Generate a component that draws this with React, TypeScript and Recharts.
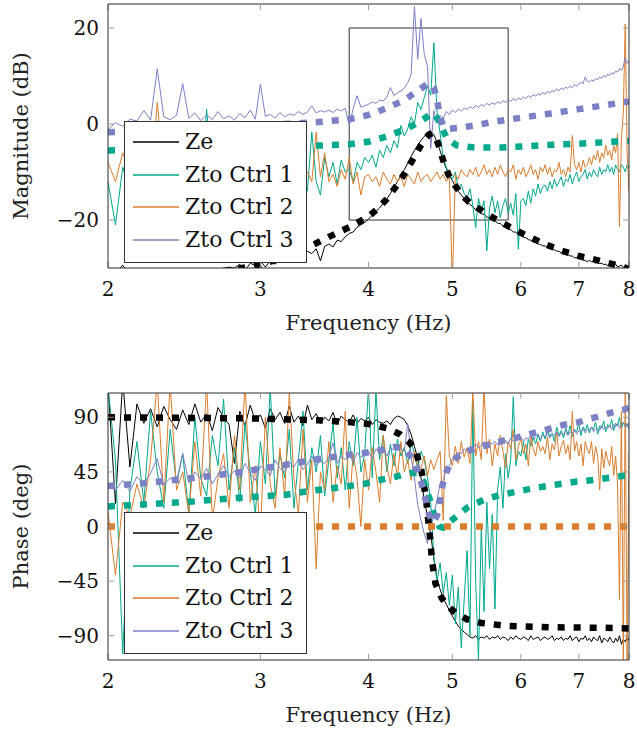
import React from 'react';
import { LineChart, Line, XAxis, YAxis, ReferenceArea, Legend } from 'recharts';

const FONT = "'DejaVu Serif', serif";
const C_ZE = '#000000';
const C_1 = '#00a88c';
const C_2 = '#da7d2c';
const C_3 = '#7c80c4';

const SERIES_NAMES = ['Ze', 'Zto Ctrl 1', 'Zto Ctrl 2', 'Zto Ctrl 3'];
const SERIES_COLORS = [C_ZE, C_1, C_2, C_3];

const X_TICKS = [2, 3, 4, 5, 6, 7, 8];
const MAG_TICKS = [-20, 0, 20];
const PH_TICKS = [-90, -45, 0, 45, 90];

const FREQ = [
  2, 2.04, 2.08, 2.12, 2.16, 2.2, 2.24, 2.28, 2.32, 2.36,
  2.4, 2.44, 2.48, 2.52, 2.56, 2.6, 2.64, 2.68, 2.72, 2.76,
  2.8, 2.84, 2.88, 2.92, 2.96, 3, 3.04, 3.08, 3.12, 3.16,
  3.2, 3.24, 3.28, 3.32, 3.36, 3.4, 3.44, 3.48, 3.52, 3.56,
  3.6, 3.64, 3.68, 3.72, 3.76, 3.8, 3.84, 3.88, 3.92, 3.96,
  4, 4.04, 4.08, 4.12, 4.16, 4.2, 4.24, 4.28, 4.32, 4.36,
  4.4, 4.44, 4.48, 4.52, 4.56, 4.6, 4.64, 4.68, 4.72, 4.76,
  4.8, 4.84, 4.88, 4.92, 4.96, 5, 5.04, 5.08, 5.12, 5.16,
  5.2, 5.24, 5.28, 5.32, 5.36, 5.4, 5.44, 5.48, 5.52, 5.56,
  5.6, 5.64, 5.68, 5.72, 5.76, 5.8, 5.84, 5.88, 5.92, 5.96,
  6, 6.04, 6.08, 6.12, 6.16, 6.2, 6.24, 6.28, 6.32, 6.36,
  6.4, 6.44, 6.48, 6.52, 6.56, 6.6, 6.64, 6.68, 6.72, 6.76,
  6.8, 6.84, 6.88, 6.92, 6.96, 7, 7.04, 7.08, 7.12, 7.16,
  7.2, 7.24, 7.28, 7.32, 7.36, 7.4, 7.44, 7.48, 7.52, 7.56,
  7.6, 7.64, 7.68, 7.72, 7.76, 7.8, 7.84, 7.88, 7.92, 7.96,
  8,
];

// ---- Magnitude (dB), measured ----
const MAG_ZE = [
  -33, -31, -29.4, -32, -34, -33, -35, -34, -33, -32,
  -33, -34, -32, -33, -31, -32, -30.5, -32, -31, -29.8,
  -30, -29.2, -30.5, -29, -29.5, -28.6, -29.8, -28.5, -29.2, -28,
  -28.4, -27.5, -28.2, -27, -27.6, -26.5, -27, -26, -28.5, -25.5,
  -25, -25.6, -24.2, -24.5, -23.5, -22.8, -22.5, -21.5, -21, -20.5,
  -19.8, -19, -18.2, -17.5, -16.5, -15.6, -14.5, -13.2, -12, -10.8,
  -9.5, -8.2, -6.8, -5.5, -4.4, -3.4, -2.6, -2, -1.6, -2.2,
  -3.8, -5.6, -7.6, -9.3, -10.6, -11.8, -13, -14, -14.8, -15.5,
  -16.1, -16.8, -17.2, -17.9, -18.1, -18.7, -18.8, -19.4, -19.5, -20,
  -20.1, -20.7, -20.7, -21.3, -21.4, -21.9, -22, -22.5, -22.5, -23.1,
  -23.2, -23.6, -23.7, -24.1, -24.2, -24.6, -24.6, -25, -25.1, -25.4,
  -25.4, -25.8, -25.8, -26.1, -26.2, -26.5, -26.5, -26.9, -26.9, -27.2,
  -27.2, -27.5, -27.5, -27.9, -27.8, -28.1, -28.1, -28.4, -28.4, -28.7,
  -28.4, -28.7, -28.6, -29, -28.8, -29.1, -29, -29.3, -29.2, -29.5,
  -29.3, -29.6, -29.5, -29.2, -29.8, -29.6, -29.4, -29.9, -29.6, -30,
  -29.9,
];
const MAG_C1 = [
  -12, -21, -9, -14, -11, -16, -8, -13, -10, -15,
  -11, -17, -9, -12, -14, 3.1, -10, -13, -9, -15,
  -12, -8, -14, -10, -13, -11, -16, -9, -12, -10,
  -13, -8, -15, -11, -9, -14, -1.7, -12, -14.8, -7,
  -11, -8, -12.5, -7.5, -10, -9.5, -12, -8, -9.5, -7,
  -8, -6.5, -9, -5.5, -7, -4.5, -6, -3.5, -5, -0.3,
  -2.5, -1, 1.5, 0, 4.5, 3, 5.5, 8, 6, 16.9,
  2.5, -2, -7, -9, -10.5, -11.5, -10, -13.5, -12.5, -14.5,
  -15.5, -13.5, -17, -21.6, -15.5, -18, -16, -26.4, -17.5, -15,
  -18.5, -16, -19.5, -17, -15.5, -18.5, -16.5, -19, -14.5, -26.1,
  -16, -15.5, -17, -14, -16.5, -13.5, -15, -12.5, -14.5, -13,
  -12.7, -14, -12, -13.5, -11.5, -13, -12, -11, -13, -11.5,
  -12, -10.5, -12.5, -11, -10, -12, -11, -10.5, -9.5, -11.5,
  -10, -11, -9.5, -10.5, -11, -9, -10.5, -9.5, -10, -8.5,
  -10, -9, -10.5, -8.5, -9.5, -10, -8.5, -9, -10, -8.5,
  -9.2,
];
const MAG_C2 = [
  -8, -12, -6, -10, -11, -9, -13, 4.5, -10, -12,
  -9, -11, -13, -8, -12, -10, -9, -14, -11, -10,
  -12, -9, -11, -13, -10, -12, -8, -11, -13, -10,
  -11, -12, -9, -13, -11, -10, -12, -1.7, -11, -6,
  -12, -10.5, -13, -9.5, -11.5, -7, -12.5, -10, -14.8, -11,
  -10.5, -12, -11, -13, -10, -11.5, -12.5, -10.5, -12, -11,
  -13, -10.5, -11.5, -12.5, -10, -12, -11, -10.5, -12, -11,
  -10, -11.5, -10.5, -12, -11, -33, -10.5, -11.5, -9.5, -10.5,
  -11, -9.5, -10.5, -9, -11, -10, -8.5, -10.5, -9.5, -11,
  -9, -10.5, -8.5, -10, -11, -9.5, -10, -8.5, -11.5, -9.5,
  -10.5, -9, -11, -10, -8.5, -10.5, -9.5, -11.5, -9, -10,
  -8.5, -10.5, -9, -11, -9.5, -10, -8, -10.5, -9.5, -11,
  -9, -10, -2.4, -8.5, -9.5, -8, -10, -7.5, -9, -8.5,
  -7, -8.5, -6.5, -7.5, -5.5, -8, -6, -7, -4.4, -6.5,
  -5.5, -7.5, -4.5, -6, -2, -21.4, -3, 2.5, 20.8, -6,
  -14,
];
const MAG_C3 = [
  -1.2, 0.3, -0.5, 1.0, 0.6, 2.8, 0.8, 11.5, 1.5, 0.9,
  1.8, 8.4, 1.2, 2.3, 0.7, 1.9, 0.9, 2.6, 1.1, 1.7,
  0.8, 2.2, 1.3, 2.9, 1.0, 8.3, 1.6, 2.0, 1.2, 2.4,
  1.5, 2.1, 1.8, 2.6, 2.0, 2.5, 3.8, 2.3, 2.8, 2.5,
  2.9, 2.4, 3.1, 2.7, 3.3, -0.3, 3.2, 5.9, 3.5, 3.8,
  4.1, 4.6, 4.3, 5.0, 4.8, 5.6, 7.6, 5.9, 6.5, 6.9,
  7.5, 8.6, 10.2, 24.5, 13.5, 22.0, 14.5, 12.0, -5.1, 2.8,
  0.2, 1.8, 1.2, 2.6, 2.0, 2.9, 2.4, 3.1, 2.7, 3.3,
  3.0, 3.6, 3.2, 3.9, 3.4, 4.1, 3.7, 4.3, 3.9, 4.4,
  4.1, 4.6, 4.3, 4.9, 4.5, 5.1, 4.7, 5.3, 4.9, 5.4,
  5.1, 5.6, 5.3, 5.9, 5.5, 6.1, 5.8, 6.3, 6.0, 6.6,
  6.2, 6.8, 6.4, 7.0, 6.7, 7.3, 6.9, 7.5, 7.2, 7.7,
  7.4, 7.9, 7.6, 8.2, 7.9, 8.3, 8.7, 8.4, 9.8, 8.9,
  8.7, 9.2, 8.9, 9.5, 9.2, 9.8, 9.5, 10.1, 9.8, 10.4,
  10.1, 10.7, 10.4, 11.0, 10.8, 11.5, 11.2, 12.0, 13.8, 12.6,
  13.2,
];

// ---- Magnitude (dB), model curves [frequency, value] ----
const MAG_ZE_MODEL: [number, number][] = [
  [2.6, -31], [2.8, -30.3], [3.0, -29.3], [3.2, -27.8], [3.4, -25.8], [3.6, -23.5],
  [3.8, -21.5], [4.0, -19.3], [4.1, -17.6], [4.2, -15.6], [4.3, -13.1], [4.4, -10.4],
  [4.5, -7.4], [4.6, -4.4], [4.65, -3.1], [4.7, -2.2], [4.74, -1.9], [4.78, -2.6],
  [4.82, -4.4], [4.86, -6.6], [4.9, -8.6], [4.95, -10.6], [5.04, -12.9], [5.14, -15],
  [5.23, -16.3], [5.42, -18.2], [5.62, -19.9], [5.83, -21.5], [6.1, -23.3], [6.39, -25],
  [6.69, -26.4], [7.0, -27.5], [7.33, -28.3], [7.66, -29.2], [8.0, -30.2],
];
const MAG_C1_MODEL: [number, number][] = [
  [2.0, -5.5], [2.5, -5.2], [3.0, -4.9], [3.5, -4.5], [3.8, -4.2], [4.0, -3.7],
  [4.23, -2.4], [4.42, -1.0], [4.58, 0.4], [4.7, 1.8], [4.76, 2.3], [4.81, 1.0],
  [4.86, -0.8], [4.93, -3], [5.05, -4.4], [5.3, -4.9], [5.7, -4.9], [6.0, -4.7],
  [6.4, -4.4], [7.0, -4.1], [7.5, -3.8], [8.0, -3.5],
];
const MAG_C3_MODEL: [number, number][] = [
  [2.0, -1.7], [2.5, -1.0], [3.0, -0.3], [3.5, 0.4], [3.8, 1.0], [4.0, 1.9],
  [4.2, 3.3], [4.4, 5.0], [4.55, 6.8], [4.65, 8.0], [4.71, 8.5], [4.76, 7.6],
  [4.8, 5.0], [4.84, 1.5], [4.88, -0.5], [4.95, -1.0], [5.1, -0.8], [5.3, -0.3],
  [5.6, 0.5], [6.0, 1.3], [6.5, 2.2], [7.0, 3.1], [7.5, 3.9], [8.0, 4.7],
];

// ---- Phase (deg), measured ----
const PH_ZE = [
  118, 19, 120, 49, 101, 85, 97, 82, 99, 88,
  80, 96, 84, 101, 86, 93, 79, 98, 90, 84,
  52, 95, 83, 100, 87, 92, 81, 97, 88, 94,
  85, 99, 86, 91, 83, 100, 88, 93, 85, 90,
  87, 94, 84, 91, 88, 86, 92, 85, 89, 87,
  90, 84, 88, 86, 85, 87, 84, 89, 91, 90,
  88, 83, 76, 66, 56, 40, 22, 8, -6, -27,
  -43, -52, -59, -64, -69, -74, -78, -82, -85, -87,
  -89, -91, -92, -90, -93, -91, -92, -90, -93, -91,
  -92, -90, -93, -91, -92, -94, -91, -93, -90, -92,
  -93, -91, -92, -94, -90, -93, -92, -91, -94, -92,
  -91, -93, -92, -90, -94, -92, -93, -91, -94, -92,
  -93, -90, -94, -92, -91, -95, -92, -93, -90, -94,
  -92, -95, -91, -93, -94, -90, -96, -92, -93, -95,
  -91, -94, -96, -92, -95, -90, -97, -93, -95, -91,
  -94,
];
const PH_C1 = [
  115, 55, -105, 30, 70, 20, 95, 45, 15, 80,
  35, 60, 10, 90, 40, 25, 75, 50, 105, 30,
  65, 20, 85, 45, 10, 70, 35, 115, 25, 60,
  40, 80, 15, 55, 95, 30, 65, 45, 75, 25,
  55, 85, 40, 65, 30, 70, 50, 90, 45, 60,
  115, 40, 112, 55, 75, 45, 68, 50, 72, 58,
  65, 52, 70, 60, 48, 62, 55, 40, 20, -25,
  -45, -30, -55, -38, -65, -40, -80, -50, -100, -60,
  -20, -90, 103, -45, -110, 0, -70, 20, -35, 10,
  -68, 30, 49, 15, 60, 40, 55, 107, 50, 62,
  58, 70, 55, 72, 66, 74, 68, 76, 70, 78,
  72, 80, 74, 77, 70, 82, 75, 79, 73, 81,
  76, 83, 74, 80, 78, 85, 75, 82, 79, 84,
  77, 82, 80, 86, 76, 83, 81, 87, 78, 84,
  82, 88, 79, 85, 83, 90, 80, 86, 84, 82,
  85,
];
const PH_C2 = [
  12, -40, 20, 8, 35, 15, 55, 120, 20, 118,
  30, 45, 10, 70, 25, 120, 5, 40, 60, 15,
  75, 30, 120, 20, 50, -5, 90, 35, 15, 65,
  25, 110, 40, 10, 80, 20, 55, -35, 45, 30,
  70, 20, 50, 35, 95, 15, 60, 40, 0, 55,
  30, 65, 45, 20, 75, 50, 35, 60, 40, 70,
  45, 55, 38, 62, 50, 48, 58, 42, 55, 47,
  55, 62, 5, 108, 58, 50, 66, 52, 70, 57,
  65, 52, 112, 58, 70, 55, 115, 60, 72, 50,
  68, 58, 75, 62, 48, 70, 64, 80, 55, 66,
  72, 60, 68, 50, 75, 64, 58, 70, 62, 66,
  60, 74, 55, 68, 63, 78, 58, 66, 71, 60,
  67, 55, 95, 62, 70, 58, 68, 50, 70, 63,
  60, 70, 52, 66, 58, 30, 64, 48, 62, 55,
  50, 66, 42, 58, 35, -60, 95, -115, 115, -115,
  60,
];
const PH_C3 = [
  33, 30, 38, 29, 41, 35, 44, 56, 34, 40,
  37, 60, 36, 45, 39, 48, 35, 43, 50, 41,
  46, 40, 52, 44, 38, 50, 47, 42, 55, 48,
  45, 53, 49, 56, 47, 51, 58, 50, 54, 52,
  57, 69, 52, 58, 55, 60, 53, 61, 57, 59,
  62, 56, 64, 60, 66, 58, 65, 63, 67, 64,
  62, 85, 58, 40, 18, 5, -6, -14, -2, 10,
  22, 35, 38, 47, 50, 56, 57, 61, 60, 64,
  62, 66, 64, 68, 65, 67, 70, 66, 69, 68,
  70, 67, 72, 69, 71, 68, 73, 70, 72, 71,
  74, 70, 73, 72, 75, 71, 74, 76, 72, 75,
  74, 77, 73, 76, 75, 78, 74, 77, 76, 79,
  75, 78, 77, 80, 76, 79, 78, 81, 77, 80,
  79, 82, 78, 80, 81, 79, 83, 80, 82, 81,
  83, 80, 84, 82, 85, 81, 84, 86, 82, 85,
  80,
];

// ---- Phase (deg), model curves [frequency, value] ----
const PH_ZE_MODEL: [number, number][] = [
  [2.0, 90], [2.5, 89.5], [3.0, 89], [3.5, 87.5], [3.8, 86], [4.0, 84.5], [4.2, 81],
  [4.35, 76], [4.45, 70], [4.53, 63], [4.6, 48], [4.66, 24], [4.71, -8], [4.74, -30],
  [4.78, -47], [4.86, -59], [4.95, -66], [5.04, -71], [5.2, -76.5], [5.4, -79.5],
  [5.8, -82], [6.5, -83], [7.5, -83.5], [8.0, -84],
];
const PH_C1_MODEL: [number, number][] = [
  [2.0, 16.5], [2.5, 20.5], [2.8, 23.5], [3.2, 26], [3.4, 29], [3.65, 31.7], [3.95, 35],
  [4.1, 38], [4.3, 41], [4.47, 44], [4.55, 44], [4.63, 37], [4.7, 24], [4.77, 8],
  [4.83, 0], [4.88, -1], [4.95, 3], [5.05, 8], [5.2, 15.5], [5.43, 21.8], [5.68, 26],
  [5.93, 28.7], [6.2, 31.5], [6.66, 35], [6.96, 37], [7.27, 38.3], [7.55, 40],
  [7.85, 41.6], [8.0, 42.2],
];
const PH_C2_MODEL: [number, number][] = [
  [2, 0], [3, 0], [4, 0], [5, 0], [6, 0], [7, 0], [8, 0],
];
const PH_C3_MODEL: [number, number][] = [
  [2.0, 33.4], [2.2, 35.6], [2.47, 39.4], [2.82, 44.3], [3.0, 47.5], [3.2, 50.7],
  [3.44, 54.8], [3.62, 57], [3.79, 59], [3.97, 60.8], [4.14, 63], [4.29, 65.7],
  [4.4, 64], [4.5, 56], [4.58, 42], [4.64, 27], [4.7, 10], [4.75, 3], [4.8, 9],
  [4.83, 18], [4.86, 31], [4.9, 42], [4.98, 53], [5.1, 59], [5.25, 63], [5.45, 66.5],
  [5.67, 70], [5.95, 73.5], [6.2, 77], [6.4, 79.5], [6.7, 83.5], [7.0, 86],
  [7.24, 89], [7.6, 93.5], [7.88, 96], [8.0, 98],
];

const buildTable = (a: number[], b: number[], c: number[], d: number[]) =>
  FREQ.map((f, i) => ({ f, ze: a[i], c1: b[i], c2: c[i], c3: d[i] }));
const toPts = (pairs: [number, number][]) => pairs.map(([f, v]) => ({ f, v }));

const magTable = buildTable(MAG_ZE, MAG_C1, MAG_C2, MAG_C3);
const phTable = buildTable(PH_ZE, PH_C1, PH_C2, PH_C3);

const fmtNum = (v: number) => (v < 0 ? '\u2212' + Math.abs(v) : String(v));
const blank = () => '';

const tickStyle = { fill: '#111', fontSize: 20, fontFamily: FONT };
const axisLineStyle = { stroke: '#2a2a2a', strokeWidth: 1 };
const tickLineStyle = { stroke: '#9a9a9a', strokeWidth: 1 };

const LegendBox = () => (
  <div
    style={{
      boxSizing: 'border-box',
      width: 183,
      height: 142,
      border: '1px solid #333',
      background: '#fff',
      paddingTop: 4,
    }}
  >
    {SERIES_NAMES.map((name, i) => (
      <div key={name} style={{ display: 'flex', alignItems: 'center', height: 32.5 }}>
        <svg width={46} height={4} style={{ marginLeft: 8, display: 'block' }}>
          <line x1={0} y1={2} x2={46} y2={2} stroke={SERIES_COLORS[i]} strokeWidth={1.3} />
        </svg>
        <span
          style={{
            marginLeft: 6,
            fontFamily: FONT,
            fontSize: 22,
            lineHeight: '32.5px',
            color: '#111',
            whiteSpace: 'nowrap',
          }}
        >
          {name}
        </span>
      </div>
    ))}
  </div>
);

const modelProps = {
  dataKey: 'v',
  dot: false,
  strokeWidth: 6.5,
  strokeDasharray: '7 9',
  strokeLinecap: 'butt' as const,
  isAnimationActive: false,
  legendType: 'none' as const,
};
const measProps = {
  dot: false,
  strokeWidth: 1,
  isAnimationActive: false,
  legendType: 'none' as const,
};

type PanelProps = {
  table: any[];
  models: [number, number][][];
  yDomain: [number, number];
  yTicks: number[];
  yLabel: string;
  marginTop: number;
  marginBottom: number;
  legendTop: number;
  box?: boolean;
};

function Panel({ table, models, yDomain, yTicks, yLabel, marginTop, marginBottom, legendTop, box }: PanelProps) {
  const modelColors = [C_ZE, C_1, C_2, C_3];
  return (
    <LineChart
      width={637}
      height={366}
      margin={{ top: marginTop, right: 7, bottom: marginBottom, left: 0 }}
    >
      <XAxis
        dataKey="f"
        type="number"
        scale="log"
        domain={[2, 8]}
        ticks={X_TICKS}
        interval={0}
        allowDataOverflow
        height={70}
        tickSize={-6}
        tickMargin={20}
        tick={tickStyle}
        tickLine={tickLineStyle}
        axisLine={axisLineStyle}
        label={{
          value: 'Frequency (Hz)',
          position: 'insideBottom',
          offset: 8,
          fill: '#222',
          fontSize: 21,
          fontFamily: FONT,
        }}
      />
      <XAxis
        xAxisId="top"
        orientation="top"
        dataKey="f"
        type="number"
        scale="log"
        domain={[2, 8]}
        ticks={X_TICKS}
        interval={0}
        allowDataOverflow
        height={1}
        tickSize={-6}
        tickFormatter={blank}
        tickLine={tickLineStyle}
        axisLine={axisLineStyle}
      />
      <YAxis
        type="number"
        domain={yDomain}
        ticks={yTicks}
        interval={0}
        allowDataOverflow
        width={108}
        tickSize={-6}
        tickMargin={15}
        tick={tickStyle}
        tickFormatter={fmtNum}
        tickLine={tickLineStyle}
        axisLine={axisLineStyle}
        label={{
          value: yLabel,
          angle: -90,
          position: 'insideLeft',
          offset: 21,
          fill: '#222',
          fontSize: 21,
          fontFamily: FONT,
          style: { textAnchor: 'middle' },
        }}
      />
      <YAxis
        yAxisId="right"
        orientation="right"
        type="number"
        domain={yDomain}
        ticks={yTicks}
        interval={0}
        allowDataOverflow
        width={1}
        tickSize={-6}
        tickFormatter={blank}
        tickLine={tickLineStyle}
        axisLine={axisLineStyle}
      />
      {box && (
        <ReferenceArea
          x1={3.8}
          x2={5.8}
          y1={-20}
          y2={20}
          fill="none"
          fillOpacity={0}
          stroke="#333"
          strokeWidth={1}
        />
      )}
      <Line data={table} dataKey="ze" stroke={C_ZE} {...measProps} />
      <Line data={table} dataKey="c1" stroke={C_1} {...measProps} />
      <Line data={table} dataKey="c2" stroke={C_2} {...measProps} />
      <Line data={table} dataKey="c3" stroke={C_3} {...measProps} />
      {models.map((m, i) =>
        m.length ? (
          <Line key={'m' + i} data={toPts(m)} stroke={modelColors[i]} {...modelProps} />
        ) : null
      )}
      <Legend
        layout="horizontal"
        verticalAlign="middle"
        align="center"
        wrapperStyle={{ left: 124, top: legendTop, width: 183, height: 142, margin: 0, padding: 0 }}
        content={() => <LegendBox />}
      />
    </LineChart>
  );
}

export default function App() {
  return (
    <div
      style={{
        position: 'absolute',
        left: 0,
        top: 0,
        width: 637,
        height: 732,
        background: '#fff',
        fontFamily: FONT,
      }}
    >
      <Panel
        table={magTable}
        models={[MAG_ZE_MODEL, MAG_C1_MODEL, [], MAG_C3_MODEL]}
        yDomain={[-30, 25]}
        yTicks={MAG_TICKS}
        yLabel="Magnitude (dB)"
        marginTop={3}
        marginBottom={28}
        legendTop={121}
        box
      />
      <Panel
        table={phTable}
        models={[PH_ZE_MODEL, PH_C1_MODEL, PH_C2_MODEL, PH_C3_MODEL]}
        yDomain={[-110, 110]}
        yTicks={PH_TICKS}
        yLabel="Phase (deg)"
        marginTop={26}
        marginBottom={2}
        legendTop={146}
      />
    </div>
  );
}
